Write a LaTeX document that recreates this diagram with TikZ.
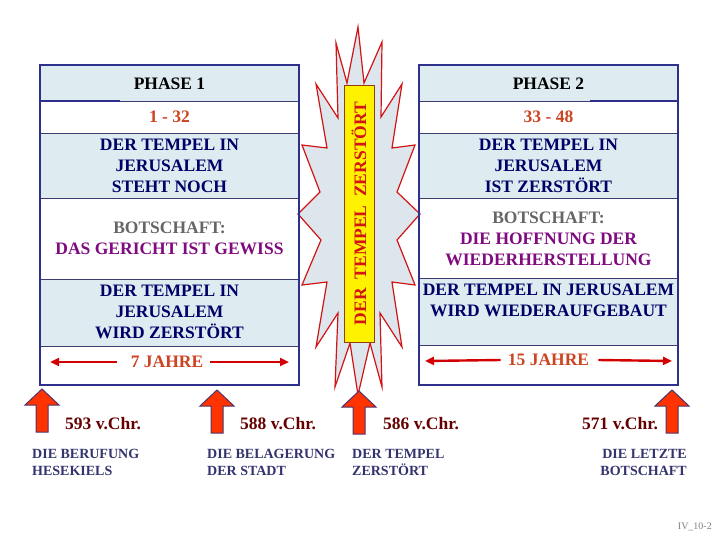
\documentclass[tikz,border=0pt]{standalone}
\usepackage{fontspec}
\setmainfont{Liberation Serif}
\usetikzlibrary{arrows.meta}
\definecolor{lblue}{RGB}{222,236,242}
\definecolor{navy}{RGB}{46,49,140}
\definecolor{sepc}{RGB}{60,60,110}
\definecolor{txtblue}{RGB}{0,0,102}
\definecolor{botgray}{RGB}{102,102,102}
\definecolor{purp}{RGB}{128,10,128}
\definecolor{orred}{RGB}{204,68,34}
\definecolor{arrred}{RGB}{210,0,0}
\definecolor{datered}{RGB}{102,0,0}
\definecolor{descblue}{RGB}{51,51,110}
\definecolor{burstfill}{RGB}{220,230,236}
\definecolor{burstline}{RGB}{210,20,20}
\definecolor{blockred}{RGB}{255,51,0}
\definecolor{blockline}{RGB}{80,50,110}
\definecolor{yelline}{RGB}{150,60,20}
\begin{document}
\begin{tikzpicture}[x=1pt,y=-1pt,
 big/.style={font=\fontsize{17.5}{21}\selectfont\bfseries, align=center, inner sep=0pt},
 band/.style={fill=lblue},
 sep/.style={draw=sepc, line width=0.8pt},
 frame/.style={draw=navy, line width=1.8pt},
 jarrow/.style={draw=arrred, line width=2.4pt, -{Triangle[length=9pt,width=8pt]}},
 date/.style={font=\fontsize{17.5}{21}\selectfont\bfseries, text=datered, inner sep=0pt, anchor=base west},
 desc/.style={font=\fontsize{14}{16.7}\selectfont\bfseries, text=descblue, inner sep=0pt},
 burst/.style={fill=burstfill, draw=burstline, line width=1.2pt, line join=miter},
 blockarrow/.style={fill=blockred, draw=blockline, line width=1pt, line join=miter},
 uparrow/.pic={\path[blockarrow] (0,0) -- (17,16) -- (6,16) -- (6,43) -- (-6,43) -- (-6,16) -- (-17,16) -- cycle;}
]
\useasboundingbox[fill=white] (0,0) rectangle (720,540);

% ---------- starburst ----------
\draw[burst] (358,27) -- (364,83) -- (382,42) -- (381,117) -- (402,84) -- (392,148) -- (415,145) -- (397,192) -- (420,214) -- (397,240) -- (415,285) -- (392,282) -- (402,347) -- (380,313) -- (382,387) -- (370,343) -- (358,395) -- (350,343) -- (335,387) -- (338,313) -- (316,347) -- (327,282) -- (302,285) -- (321,240) -- (298,214) -- (320,192) -- (302,145) -- (327,148) -- (316,84) -- (338,118) -- (336,43) -- (347,83) -- cycle;
\node[rotate=90, fill=yellow, draw=yelline, line width=0.8pt, minimum width=257pt, minimum height=30pt, inner sep=0pt,
  font=\fontsize{17.5}{21}\selectfont\bfseries, text=burstline] (zt) at (359,213.5) {DER~~TEMPEL~~ZERSTÖRT};

% ---------- left box ----------
\path[band] (40,65) rectangle (299,101);
\path[band] (40,133) rectangle (299,198);
\path[band] (40,279) rectangle (299,346);
\draw[sep] (40,101) -- (299,101);
\draw[sep] (40,133) -- (299,133);
\draw[sep] (40,198) -- (299,198);
\draw[sep] (40,279) -- (299,279);
\draw[sep] (40,346) -- (299,346);
\draw[draw=navy, line width=1.4pt] (40,101) -- (120,101);
\draw[frame] (40,65) rectangle (299,385);

\node[big] (ph1) at (169.5,84) {PHASE 1};
\node[big, text=orred] (r1) at (169.5,117) {1 - 32};
\node[big, text=txtblue] (t1) at (169.5,166) {DER TEMPEL IN\\JERUSALEM\\STEHT NOCH};
\node[big] (b1) at (169.5,238.5) {\textcolor{botgray}{BOTSCHAFT:}\\\textcolor{purp}{DAS GERICHT IST GEWISS}};
\node[big, text=txtblue] (d1) at (169.5,312) {DER TEMPEL IN\\JERUSALEM\\WIRD ZERSTÖRT};
\node[big, text=orred] (j1) at (167,362) {7 JAHRE};
\coordinate (j1l) at (50,362);
\coordinate (j1r) at (289,362);
\draw[jarrow] ([xshift=-14pt]j1.west) -- (j1l);
\draw[jarrow] ([xshift=7pt]j1.east) -- (j1r);

% ---------- right box ----------
\path[band] (419,65) rectangle (678,101);
\path[band] (419,133) rectangle (678,198);
\path[band] (419,278) rectangle (678,345);
\draw[sep] (419,101) -- (678,101);
\draw[sep] (419,133) -- (678,133);
\draw[sep] (419,198) -- (678,198);
\draw[sep] (419,278) -- (678,278);
\draw[sep] (419,345) -- (678,345);
\draw[draw=navy, line width=1.4pt] (590,101) -- (678,101);
\draw[frame] (419,65) rectangle (678,385);

\node[big] (ph2) at (548.5,84) {PHASE 2};
\node[big, text=orred] (r2) at (548.5,117) {33 - 48};
\node[big, text=txtblue] (t2) at (548.5,166) {DER TEMPEL IN\\JERUSALEM\\IST ZERSTÖRT};
\node[big] (b2) at (548.5,238.5) {\textcolor{botgray}{BOTSCHAFT:}\\\textcolor{purp}{DIE HOFFNUNG DER}\\\textcolor{purp}{WIEDERHERSTELLUNG}};
\node[big, text=txtblue] (d2) at (548.5,300.5) {DER TEMPEL IN JERUSALEM\\WIRD WIEDERAUFGEBAUT};
\node[big, text=orred] (j2) at (548.5,360) {15 JAHRE};
\coordinate (j2l) at (425,361);
\coordinate (j2r) at (672,361);
\draw[jarrow] ([xshift=-7pt]j2.west) -- (j2l);
\draw[jarrow] ([xshift=9pt]j2.east) -- (j2r);

% ---------- timeline arrows ----------
\pic at (42,389) {uparrow};
\pic at (217,390) {uparrow};
\pic at (359,391) {uparrow};
\pic at (672,390) {uparrow};

\node[date] (y593) at (65,429) {593 v.Chr.};
\node[date] (y588) at (240,429) {588 v.Chr.};
\node[date] (y586) at (383,429) {586 v.Chr.};
\node[date] (y571) at (582,429) {571 v.Chr.};

\node[desc, anchor=north west, align=left] (e1) at (32,449) {DIE BERUFUNG\\HESEKIELS};
\node[desc, anchor=north west, align=left] (e2) at (207,449) {DIE BELAGERUNG\\DER STADT};
\node[desc, anchor=north west, align=left] (e3) at (352,449) {DER TEMPEL\\ZERSTÖRT};
\node[desc, anchor=north east, align=right] (e4) at (687,449) {DIE LETZTE\\BOTSCHAFT};

\node[font=\fontsize{10}{12}\selectfont, text=gray, inner sep=0pt, anchor=east] (iv) at (712,527) {IV\_10-2};
\end{tikzpicture}
\end{document}
